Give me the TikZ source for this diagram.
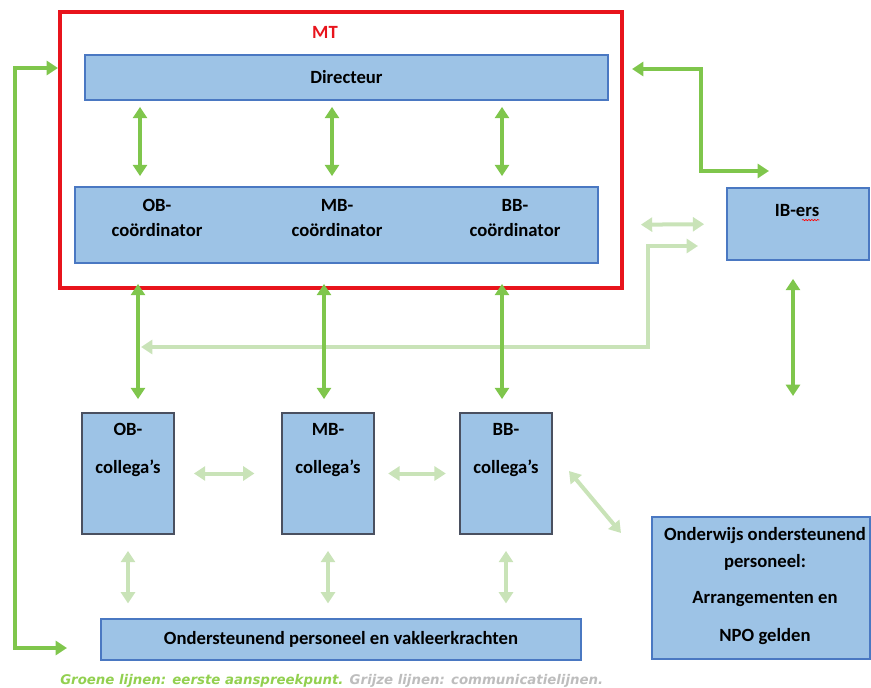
\documentclass[tikz,border=0pt]{standalone}
\usepackage{fontspec}
\setmainfont{Carlito}
\newfontfamily\voetfont{DejaVu Sans}
\usetikzlibrary{arrows.meta,decorations.pathmorphing}
\definecolor{mt_rood}{HTML}{E8141C}
\definecolor{groen}{HTML}{7FC64C}
\definecolor{lichtgroen}{HTML}{C9E3B8}
\definecolor{voet_groen}{HTML}{92D050}
\definecolor{voet_grijs}{HTML}{BDBDBD}
\definecolor{vak_blauw}{HTML}{9DC3E6}
\definecolor{rand_blauw}{HTML}{4A78C2}
\definecolor{rand_grijs}{HTML}{4A5060}

\tikzset{
  vak/.style={draw=rand_blauw, fill=vak_blauw, line width=1.3pt, inner sep=0pt},
  kolvak/.style={vak, draw=rand_grijs, minimum width=69pt, minimum height=90.75pt},
  tekst/.style={font=\bfseries\fontsize{14}{18.75}\selectfont, align=center, inner sep=0pt},
  groenpijl/.style={groen, line width=3pt, {Triangle[width=10.5pt,length=8.5pt]}-{Triangle[width=10.5pt,length=8.5pt]}},
  lichtpijl/.style={lichtgroen, line width=3pt, {Triangle[width=10.5pt,length=8.5pt]}-{Triangle[width=10.5pt,length=8.5pt]}}
}

\begin{document}
\begin{tikzpicture}[x=0.75pt, y=-0.75pt]
	\useasboundingbox (0,0) rectangle (871,688);
	% MT kader
	\node (mt) [draw=mt_rood, line width=2.3pt, minimum width=421.5pt, minimum height=207pt] at (341,150) {};
	\node (mtnaam) [tekst, text=mt_rood] at (325,32) {MT};
	\node (dir) [vak, minimum width=392.25pt, minimum height=33.75pt] at (346.5,77.5) {};
	\node [tekst] at (dir) {Directeur};
	\node (coord) [vak, minimum width=392.25pt, minimum height=57pt] at (336.5,225) {};
	\node (obc) [tekst] at (157,218) {OB-\\coördinator};
	\node (mbc) [tekst] at (337,218) {MB-\\coördinator};
	\node (bbc) [tekst] at (515,218) {BB-\\coördinator};
	% IB
	\node (ib) [vak, minimum width=106.5pt, minimum height=54pt] at (798,224) {};
	\node (ibt) [tekst] at (797,211) {IB-ers};
	\draw [red, line width=0.5pt, decorate, decoration={snake, amplitude=0.5pt, segment length=2.2pt}]
		([xshift=-13pt,yshift=-2pt]ibt.south east) -- ([yshift=-2pt]ibt.south east);
	% collega's
	\foreach \naam/\x/\team in {obcol/128/OB, mbcol/328/MB, bbcol/506/BB} {
		\node (\naam) [kolvak] at (\x,473.5) {};
		\node [tekst, font=\bfseries\fontsize{14}{28.5}\selectfont, anchor=north] at ([yshift=-8.5pt]\naam.north) {\team-\\collega’s};
	}
	\node (sup) [vak, minimum width=360pt, minimum height=30.75pt] at (341,639.5) {};
	\node [tekst] at (sup) {Ondersteunend personeel en vakleerkrachten};
	\node (ondw) [vak, minimum width=163.5pt, minimum height=106.5pt] at (761,588) {};
	\node [tekst, font=\bfseries\fontsize{14}{20.25}\selectfont] at (765,586) {Onderwijs ondersteunend\\personeel:\\[6.75pt]Arrangementen en\\[8.25pt]NPO gelden};

	% vrije eindpunten
	\coordinate (k1) at (140,0);
	\coordinate (k2) at (332,0);
	\coordinate (k3) at (502,0);
	\coordinate (c1) at (138,0);
	\coordinate (c2) at (324,0);
	\coordinate (c3) at (502,0);
	\coordinate (mt_l) at (58,68);
	\coordinate (sup_l) at (67,648);
	\coordinate (dir_r) at (632,69);
	\coordinate (ib_b) at (769,171);
	\coordinate (ib_l) at (698,246);
	\coordinate (ob_l) at (141,347);
	\coordinate (ib_onder) at (793,396);
	\coordinate (diag_a) at (569,471);
	\coordinate (diag_b) at (621,533);

	% groene lijnen
	\foreach \k in {k1,k2,k3}
		\draw [groenpijl, shorten <=4.5pt, shorten >=7.5pt] (dir.south -| \k) -- (coord.north -| \k);
	\draw [lichtpijl] (ib_l) -| (648,347) -- (ob_l);
	\foreach \k in {c1,c2,c3}
		\draw [groenpijl, shorten <=15pt, shorten >=9.75pt] (coord.south -| \k) -- (obcol.north -| \k);
	\draw [groenpijl] (mt_l) -| (15,648) -- (sup_l);
	\draw [groenpijl] (dir_r) -- ++(69,0) |- (ib_b);
	\draw [groenpijl, shorten <=13.5pt] (ib.south -| ib_onder) -- (ib_onder);

	% lichte lijnen
	\draw [lichtpijl, shorten <=31.5pt, shorten >=16.5pt] (coord.east) -- (ib.west);
	\draw [lichtpijl, shorten <=14.25pt, shorten >=20pt] (obcol.east) -- (mbcol.west);
	\draw [lichtpijl, shorten <=10pt, shorten >=10pt] (mbcol.east) -- (bbcol.west);
	\draw [lichtpijl] (diag_a) -- (diag_b);
	\foreach \n in {obcol,mbcol,bbcol}
		\draw [lichtpijl, shorten <=12pt, shorten >=11pt] (\n.south) -- (sup.north -| \n);

	\node (voet) [anchor=west, inner sep=0pt, font=\voetfont\bfseries\itshape\fontsize{10}{12}\selectfont] at (60,681)
		{\textcolor{voet_groen}{Groene lijnen: eerste aanspreekpunt.} \textcolor{voet_grijs}{Grijze lijnen: communicatielijnen.}};
\end{tikzpicture}
\end{document}
